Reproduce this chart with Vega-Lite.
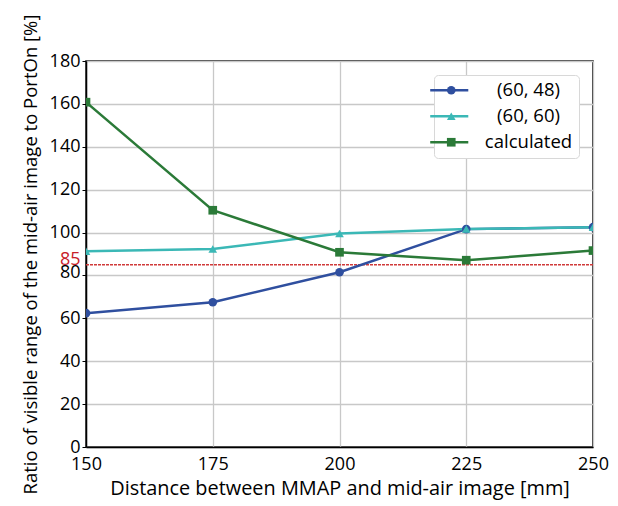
{
  "$schema": "https://vega.github.io/schema/vega-lite/v6.json",
  "width": 507,
  "height": 386,
  "autosize": {"type": "none"},
  "padding": {"left": 86, "top": 61, "right": 25, "bottom": 59},
  "background": "white",
  "title": {"text": "(b)", "orient": "bottom", "anchor": "start", "dx": -72, "offset": -4, "fontSize": 21, "fontWeight": "bold", "color": "black"},
  "config": {
    "font": "Open Sans",
    "view": {"stroke": "black", "strokeWidth": 1.5},
    "axis": {
      "domainColor": "black",
      "domainWidth": 1.5,
      "gridColor": "#c8c8c8",
      "gridWidth": 1.3,
      "labelColor": "black",
      "labelFontSize": 18,
      "titleFontSize": 18.5,
      "titleFontWeight": "normal",
      "titleColor": "black",
      "tickColor": "black"
    }
  },
  "datasets": {
    "series": [
      {"x": 150, "y": 62.4, "series": "(60, 48)"},
      {"x": 175, "y": 67.5, "series": "(60, 48)"},
      {"x": 200, "y": 81.5, "series": "(60, 48)"},
      {"x": 225, "y": 101.6, "series": "(60, 48)"},
      {"x": 250, "y": 102.5, "series": "(60, 48)"},
      {"x": 150, "y": 91.3, "series": "(60, 60)"},
      {"x": 175, "y": 92.3, "series": "(60, 60)"},
      {"x": 200, "y": 99.6, "series": "(60, 60)"},
      {"x": 225, "y": 101.6, "series": "(60, 60)"},
      {"x": 250, "y": 102.5, "series": "(60, 60)"},
      {"x": 150, "y": 160.8, "series": "calculated"},
      {"x": 175, "y": 110.4, "series": "calculated"},
      {"x": 200, "y": 90.8, "series": "calculated"},
      {"x": 225, "y": 87.1, "series": "calculated"},
      {"x": 250, "y": 91.6, "series": "calculated"}
    ]
  },
  "encoding": {
    "y": {
      "field": "y",
      "type": "quantitative",
      "scale": {"domain": [0, 180], "nice": false, "zero": false},
      "axis": {
        "title": "Ratio of visible range of the mid-air image to PortOn [%]",
        "values": [0, 20, 40, 60, 80, 85, 100, 120, 140, 160, 180],
        "labelOverlap": false,
        "tickSize": 4,
        "labelPadding": 2,
        "titlePadding": 9,
        "labelColor": {"condition": {"test": "datum.value == 85", "value": "#c8202a"}, "value": "black"},
        "labelBaseline": {"condition": {"test": "datum.value == 85", "value": "alphabetic"}, "value": "middle"},
        "labelOffset": {"condition": {"test": "datum.value == 80", "value": -3}, "value": 0},
        "gridColor": {"condition": {"test": "datum.value == 85", "value": "transparent"}, "value": "#c8c8c8"},
        "tickColor": {"condition": {"test": "datum.value == 85", "value": "transparent"}, "value": "black"}
      }
    }
  },
  "layer": [
    {
      "data": {"values": [{"y": 85}]},
      "mark": {"type": "rule", "color": "#d03a3a", "strokeWidth": 1.5, "strokeDash": [3, 1]}
    },
    {
      "data": {"name": "series"},
      "mark": {"type": "line", "strokeWidth": 2.5, "clip": true},
      "encoding": {
        "x": {
          "field": "x",
          "type": "quantitative",
          "scale": {"domain": [150, 250], "nice": false, "zero": false},
          "axis": {
            "title": "Distance between MMAP and mid-air image [mm]",
            "values": [150, 175, 200, 225, 250],
            "ticks": false,
            "labelFlush": false,
            "labelPadding": 8,
            "titlePadding": 5,
            "titleFontSize": 19.9
          }
        },
        "color": {
          "field": "series",
          "type": "nominal",
          "scale": {"domain": ["(60, 48)", "(60, 60)", "calculated"], "range": ["#2f4f9f", "#3bb8b6", "#2b7a38"]},
          "legend": {
            "title": null,
            "orient": "none",
            "legendX": 348,
            "legendY": 14,
            "symbolType": "M-5,0H5",
            "symbolSize": 58,
            "symbolStrokeWidth": 2.5,
            "labelFontSize": 18.5,
            "labelColor": "black",
            "labelAlign": "center",
            "labelOffset": 70,
            "labelExpr": "datum.label + '\u00a0\u00a0'",
            "rowPadding": 7,
            "padding": 6,
            "fillColor": "white",
            "strokeColor": "#d8d8d8",
            "cornerRadius": 4
          }
        }
      }
    },
    {
      "data": {"name": "series"},
      "mark": {"type": "point", "filled": true, "size": 75, "opacity": 1, "clip": true},
      "encoding": {
        "x": {"field": "x", "type": "quantitative"},
        "color": {
          "field": "series",
          "type": "nominal",
          "scale": {"domain": ["(60, 48)", "(60, 60)", "calculated"], "range": ["#2f4f9f", "#3bb8b6", "#2b7a38"]},
          "legend": {
            "title": null,
            "orient": "none",
            "legendX": 350,
            "legendY": 14,
            "symbolSize": 75,
            "symbolOpacity": 1,
            "labelFontSize": 18.5,
            "labelOpacity": 0,
            "rowPadding": 7,
            "padding": 6
          }
        },
        "shape": {
          "field": "series",
          "type": "nominal",
          "scale": {"domain": ["(60, 48)", "(60, 60)", "calculated"], "range": ["circle", "triangle-up", "square"]},
          "legend": {
            "title": null,
            "orient": "none",
            "legendX": 350,
            "legendY": 14,
            "symbolSize": 75,
            "symbolOpacity": 1,
            "labelFontSize": 18.5,
            "labelOpacity": 0,
            "rowPadding": 7,
            "padding": 6
          }
        }
      }
    }
  ],
  "resolve": {
    "scale": {"color": "independent", "shape": "independent"},
    "legend": {"color": "independent", "shape": "independent"}
  }
}
